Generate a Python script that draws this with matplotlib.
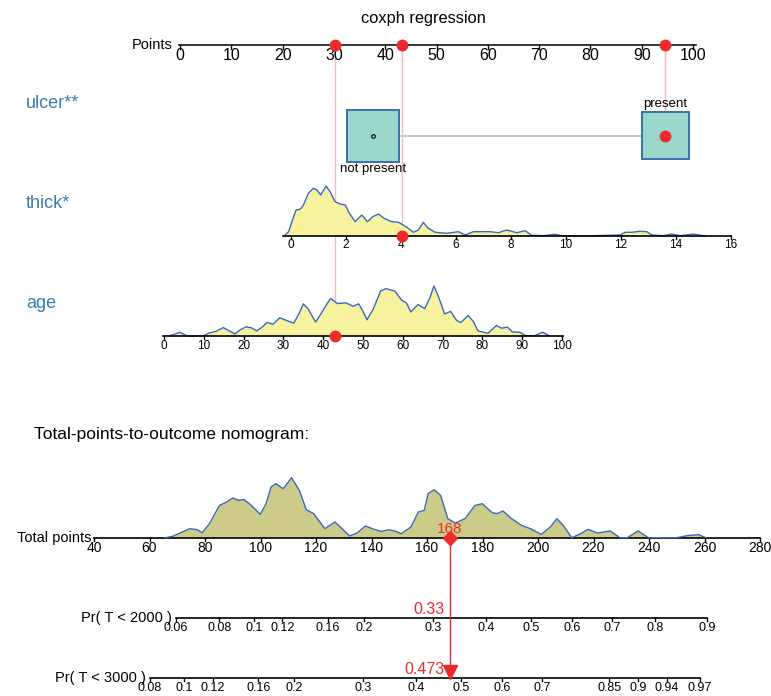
import numpy as np
import matplotlib.pyplot as plt
from matplotlib.patches import Rectangle

plt.rcParams['font.family'] = ['Liberation Sans', 'DejaVu Sans']

# points contributed by each predictor
ulcer_levels = ['not present', 'present']
ulcer_pts = [37.7, 94.6]
thick_b0, thick_b1 = 21.6, 5.36      # points = b0 + b1 * thick
age_b0, age_b1 = -3.12, 0.776        # points = b0 + b1 * age
thick_ticks = [0, 2, 4, 6, 8, 10, 12, 14, 16]
age_ticks = [0, 10, 20, 30, 40, 50, 60, 70, 80, 90, 100]
points_ticks = [0, 10, 20, 30, 40, 50, 60, 70, 80, 90, 100]
total_ticks = [40, 60, 80, 100, 120, 140, 160, 180, 200, 220, 240, 260, 280]

# the patient being scored
obs_ulcer = 'present'
obs_thick = 4.05
obs_age = 43

# density of thickness (mm) in the sample
thick_x = [-0.21, -0.08, 0.06, 0.19, 0.34, 0.46, 0.64, 0.82, 0.95, 1.09, 1.28, 1.43,
           1.61, 1.79, 1.98, 2.13, 2.34, 2.58, 2.79, 2.98, 3.19, 3.39, 3.67, 3.92,
           4.22, 4.46, 4.64, 4.82, 5.0, 5.25, 5.67, 6.1, 6.34, 6.64, 7.25, 7.55, 7.85,
           8.22, 8.52, 8.76, 9.19, 9.61, 9.85, 11.0, 11.98, 12.16, 12.4, 12.7, 12.95,
           13.13, 13.55, 13.85, 14.16, 14.64, 15.07]
thick_d = [1, 4.3, 16, 26, 26.7, 31, 42.7, 47.7, 46, 41, 50, 44.3,
           34.3, 32, 31, 22.7, 14.3, 21, 14.3, 19.3, 22, 17.7, 14.3, 13.7,
           8.7, 3.7, 6, 13.7, 7.7, 3.7, 2.7, 4.3, 1, 4.3, 4.3, 3.3, 6,
           3.3, 5.3, 0.7, 0.3, 1.7, 0.3, 0.3, 1, 3.7, 3.7, 4.7, 4.3,
           1, 0.3, 2, 0.3, 2, 0]

# density of age (years)
age_x = [1.3, 2.8, 4.0, 5.3, 6.1, 9.9, 11.1, 13.1, 14.9, 16.4, 17.8, 19.1, 20.6,
         22.0, 23.3, 24.5, 25.9, 27.4, 29.1, 30.8, 32.6, 34.0, 35.0, 36.2, 38.1,
         39.8, 41.8, 43.6, 45.7, 47.5, 48.9, 50.0, 51.0, 52.5, 54.4, 55.7, 58.0,
         59.7, 60.9, 62.0, 63.8, 65.5, 66.8, 67.8, 68.9, 70.5, 72.0, 73.5, 74.6,
         76.4, 77.7, 78.9, 81.4, 83.5, 84.8, 86.3, 87.5, 89.4, 90.9, 93.1, 95.1, 96.9]
age_d = [0, 2, 3.7, 1, 0, 0, 2.7, 4.7, 8.3, 5, 2, 6, 9,
         8, 5, 8.3, 13.3, 11.7, 18, 15.3, 12.7, 22.7, 31.7, 26.7, 13.7,
         24.3, 37, 32, 32.7, 29.3, 31.7, 24.3, 16, 26, 44.3, 46.7, 44.3,
         35.3, 32.7, 23.7, 31, 27, 37.7, 49.3, 39.3, 21.7, 24.3, 15.3, 13.3,
         20.3, 14.3, 5, 2.7, 10.3, 7.7, 8.7, 4, 3.7, 0.3, 0.3, 3.7, 0]

# density of total points
tot_x = [65.7, 68.3, 71.0, 74.5, 77.2, 79.0, 81.6, 85.2, 87.8, 90.0, 92.2, 94.0,
         96.7, 99.9, 102.0, 103.8, 105.5, 108.2, 111.2, 114.0, 116.5, 119.2, 123.2,
         126.8, 129.4, 132.1, 134.8, 137.8, 141.0, 143.6, 146.3, 148.9, 150.7, 154.2,
         156.9, 159.0, 160.4, 162.6, 164.9, 167.5, 170.2, 173.7, 177.3, 179.9, 183.5,
         185.2, 187.4, 190.5, 194.1, 197.3, 201.2, 204.4, 206.8, 209.1, 212.2, 215.3,
         218.0, 221.5, 226.0, 229.5, 232.2, 236.1, 239.8, 249.9, 254.3, 257.9, 260.5]
tot_d = [0, 1.3, 4.7, 9, 8, 5, 14, 32.3, 35.7, 39.7, 37.3, 38.3,
         32.3, 23.3, 34, 50.7, 54, 49, 60, 47.3, 28, 24, 9,
         15.7, 9, 1.7, 4.7, 11.7, 8.3, 6.3, 8, 6.3, 4, 10.7,
         25.7, 27.3, 44, 48, 42.3, 19, 14.7, 19, 32.3, 34, 25,
         24, 26.7, 19, 12.3, 9, 3.3, 10.7, 19, 12.3, 0, 4,
         8.3, 4.7, 6.7, 0, 0, 6.7, 0, 0, 2.3, 3, 0]

# cloglog(Pr(T < t)) = intercept + slope * total points
cll_slope = 0.01887
cll_int = {2000: -4.092, 3000: -3.618}
pr_ticks = {2000: [0.06, 0.08, 0.1, 0.12, 0.16, 0.2, 0.3, 0.4, 0.5, 0.6, 0.7, 0.8, 0.9],
            3000: [0.08, 0.1, 0.12, 0.16, 0.2, 0.3, 0.4, 0.5, 0.6, 0.7, 0.85, 0.9, 0.94, 0.97]}


def thick_pts(v):
    return thick_b0 + thick_b1 * np.asarray(v, dtype=float)


def age_pts(v):
    return age_b0 + age_b1 * np.asarray(v, dtype=float)


def prob_to_total(p, t):
    p = np.asarray(p, dtype=float)
    return (np.log(-np.log(1 - p)) - cll_int[t]) / cll_slope


def total_to_prob(tp, t):
    return 1 - np.exp(-np.exp(cll_int[t] + cll_slope * tp))


RED = '#ec2a2c'
PINK = '#f6b7c6'
BLUE = '#3a67c0'
LAB = '#3a7bb0'

W, H = 771, 696
fig = plt.figure(figsize=(W / 100, H / 100), dpi=100)

# layout axis in pixels, plus one axis per x scale
ax0 = fig.add_axes([0, 0, 1, 1])
ax0.set_xlim(0, W)
ax0.set_ylim(H, 0)
ax1 = fig.add_axes([0, 0, 1, 1])
px_pt = 5.13
ax1.set_xlim(-180 / px_pt, (W - 180) / px_pt)
ax1.set_ylim(H, 0)
ax2 = fig.add_axes([0, 0, 1, 1])
px_tot = 2.775
ax2.set_xlim(40 - 94 / px_tot, 40 + (W - 94) / px_tot)
ax2.set_ylim(H, 0)
for a in (ax0, ax1, ax2):
    a.axis('off')
    a.patch.set_alpha(0)

y_pts, y_ulc, y_thk, y_age = 45, 135.7, 236, 336
y_tot, y_p1, y_p2 = 537.7, 618, 678

ax0.text(423, 18, 'coxph regression', fontsize=11.8, ha='center', va='center')

# Points scale
ax1.plot([-0.2, 100.5], [y_pts, y_pts], color='black', lw=1.1)
for t in points_ticks:
    ax1.plot([t, t], [y_pts, y_pts + 4], color='black', lw=1)
    ax1.text(t, y_pts + 10, str(t), fontsize=11.5, ha='center', va='center')
ax1.annotate('Points', (0, y_pts), xytext=(-5, 0), textcoords='offset points',
             ha='right', va='center', fontsize=10.5)

# current patient
o_ulc = ulcer_pts[ulcer_levels.index(obs_ulcer)]
o_thk = float(thick_pts(obs_thick))
o_age = float(age_pts(obs_age))
total = o_ulc + o_thk + o_age

ax1.plot([o_ulc, o_ulc], [y_pts, y_ulc], color=PINK, lw=1, zorder=1)
ax1.plot([o_thk, o_thk], [y_pts, y_thk], color=PINK, lw=1, zorder=1)
ax1.plot([o_age, o_age], [y_pts, y_age], color=PINK, lw=1, zorder=1)
ax1.plot([o_age, o_thk, o_ulc], [y_pts] * 3, 'o', color=RED, ms=7.5, zorder=6)

# variable names
ax0.text(26, 103, 'ulcer**', fontsize=13, color=LAB, va='center')
ax0.text(26, 203, 'thick*', fontsize=13, color=LAB, va='center')
ax0.text(26, 304, 'age', fontsize=13, color=LAB, va='center')

# ulcer boxes
box_side = [52, 47.5]
edges = []
for lev, p, s in zip(ulcer_levels, ulcer_pts, box_side):
    wpt = s / px_pt
    ax1.add_patch(Rectangle((p - wpt / 2, y_ulc - s / 2), wpt, s, facecolor='#99d8ca',
                            edgecolor='#3d6eb0', lw=1.4, zorder=3))
    edges.append((p - wpt / 2, p + wpt / 2))
    if lev == 'present':
        ax1.text(p, y_ulc - s / 2 - 8, lev, fontsize=9.5, ha='center', va='center')
    else:
        ax1.text(p, y_ulc + s / 2 + 7.5, lev, fontsize=9.5, ha='center', va='center')
ax1.plot([edges[0][1], edges[1][0]], [y_ulc, y_ulc], color='#c8c8c8', lw=1.5, zorder=2)
ax1.plot(ulcer_pts[0], y_ulc, 'o', ms=2.6, mfc='none', mec='black', mew=0.8, zorder=5)
ax1.plot(o_ulc, y_ulc, 'o', color=RED, ms=7.5, zorder=6)

# thick row
td = np.array(thick_d) / max(thick_d) * 50
tx = thick_pts(thick_x)
ax1.fill_between(tx, y_thk - td, y_thk, color='#f6f29e', lw=0, zorder=2)
ax1.plot(tx, y_thk - td, color=BLUE, lw=1, zorder=3)
ax1.plot([thick_pts(-0.27), thick_pts(16)], [y_thk, y_thk], color='black', lw=1.2, zorder=3)
for t in thick_ticks:
    ax1.plot([thick_pts(t)] * 2, [y_thk, y_thk + 3], color='black', lw=1, zorder=3)
    ax1.text(thick_pts(t), y_thk + 9, str(t), fontsize=8.5, ha='center', va='center')
ax1.plot(o_thk, y_thk, 'o', color=RED, ms=7.5, zorder=6)

# age row
ad = np.array(age_d) / max(age_d) * 50
ax_ = age_pts(age_x)
ax1.fill_between(ax_, y_age - ad, y_age, color='#f6f29e', lw=0, zorder=2)
ax1.plot(ax_, y_age - ad, color=BLUE, lw=1, zorder=3)
ax1.plot([age_pts(-0.3), age_pts(100.3)], [y_age, y_age], color='black', lw=1.2, zorder=3)
for t in age_ticks:
    ax1.plot([age_pts(t)] * 2, [y_age, y_age + 3], color='black', lw=1, zorder=3)
    ax1.text(age_pts(t), y_age + 10, str(t), fontsize=8.5, ha='center', va='center')
ax1.plot(o_age, y_age, 'o', color=RED, ms=7.5, zorder=6)

# total points section
ax0.text(34, 435, 'Total-points-to-outcome nomogram:', fontsize=12.5, va='center')

dd = np.array(tot_d) / max(tot_d) * 60
ax2.fill_between(tot_x, y_tot - dd, y_tot, color='#cccc88', lw=0, zorder=2)
ax2.plot([total_ticks[0], total_ticks[-1]], [y_tot, y_tot], color='black', lw=1.2, zorder=3)
ax2.plot(tot_x, y_tot - dd, color=BLUE, lw=1, zorder=4)
for t in total_ticks:
    ax2.plot([t, t], [y_tot, y_tot + 3], color='black', lw=1, zorder=3)
    ax2.text(t, y_tot + 10.5, str(t), fontsize=10, ha='center', va='center')
ax2.annotate('Total points', (total_ticks[0], y_tot), xytext=(-2, 0), textcoords='offset points',
             ha='right', va='center', fontsize=10.5)

# probability scales
for t, yy in ((2000, y_p1), (3000, y_p2)):
    ticks = pr_ticks[t]
    xs = prob_to_total(ticks, t)
    ax2.plot([xs[0], xs[-1]], [yy, yy], color='black', lw=1.2, zorder=3)
    for p, xv in zip(ticks, xs):
        ax2.plot([xv, xv], [yy, yy + 3], color='black', lw=1, zorder=3)
        ax2.text(xv, yy + 10, f'{p:g}', fontsize=9, ha='center', va='center')
    ax2.annotate(f'Pr( T < {t} )', (xs[0], yy), xytext=(-3, 0), textcoords='offset points',
                 ha='right', va='center', fontsize=10.5)

p1 = total_to_prob(total, 2000)
p2 = total_to_prob(total, 3000)
ax2.plot([total, total], [y_tot, y_p2 - 8], color=RED, lw=1, zorder=5)
ax2.plot(total, y_tot, 'D', color=RED, ms=7.5, zorder=6)
ax2.text(total, y_tot - 9, f'{round(total)}', fontsize=11, color=RED, ha='center', va='center',
         zorder=7)
ax2.plot(total, y_p2 - 6, 'v', color=RED, ms=10, zorder=6)
ax2.annotate(f'{p1:.2f}', (total, y_p1 - 9), xytext=(-4, 0), textcoords='offset points',
             ha='right', va='center', fontsize=11.5, color=RED)
ax2.annotate(f'{p2:.3f}', (total, y_p2 - 9), xytext=(-4, 0), textcoords='offset points',
             ha='right', va='center', fontsize=11.5, color=RED)

fig.savefig('out.png', dpi=100)
